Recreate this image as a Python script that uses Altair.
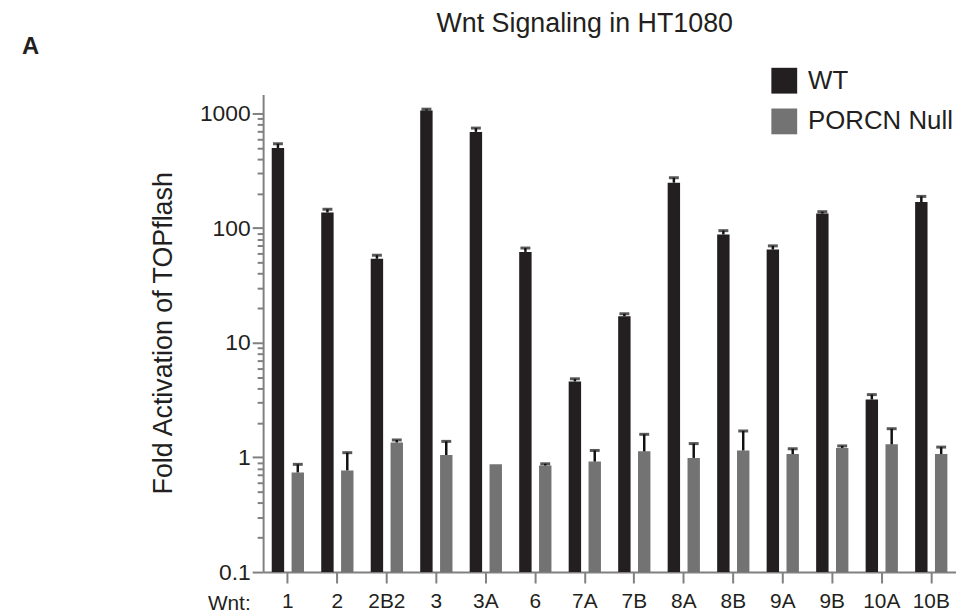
import altair as alt
import pandas as pd

wnt = ["1", "2", "2B2", "3", "3A", "6", "7A", "7B", "8A", "8B", "9A", "9B", "10A", "10B"]
wt_mean = [500, 137, 54, 1060, 690, 62, 4.6, 17.0, 249, 88, 65, 134, 3.2, 169]
wt_err = [45, 9, 4, 30, 55, 5, 0.25, 0.9, 26, 7, 5, 5, 0.33, 20]
null_mean = [0.74, 0.77, 1.35, 1.05, 0.87, 0.85, 0.92, 1.13, 0.99, 1.15, 1.07, 1.21, 1.30, 1.07]
null_err = [0.13, 0.33, 0.07, 0.33, 0.0, 0.03, 0.23, 0.46, 0.33, 0.55, 0.12, 0.05, 0.48, 0.16]
groups = ["WT", "PORCN Null"]
major_ticks = [0.1, 1, 10, 100, 1000]
minor_ticks = [m * d for d in [0.1, 1, 10, 100] for m in range(2, 10)]

rows = []
for i, w in enumerate(wnt):
    rows.append({"wnt": w, "genotype": "WT", "value": wt_mean[i], "err": wt_err[i],
                 "upper": wt_mean[i] + wt_err[i]})
    rows.append({"wnt": w, "genotype": "PORCN Null", "value": null_mean[i], "err": null_err[i],
                 "upper": null_mean[i] + null_err[i]})
df = pd.DataFrame(rows)

FONT = "Liberation Sans"
AXIS_GREY = "#808080"
TEXT = "#231f20"

x_enc = alt.X("wnt:N", sort=wnt,
              scale=alt.Scale(paddingInner=0, paddingOuter=0),
              axis=alt.Axis(title="Wnt:", labelAngle=0, labelFontSize=21, labelFont=FONT,
                            labelColor=TEXT, labelPadding=8, tickSize=11, tickWidth=2,
                            tickColor=AXIS_GREY, domainColor=AXIS_GREY, domainWidth=2,
                            titleFont=FONT, titleFontSize=21, titleFontWeight="normal",
                            titleColor=TEXT, titleX=-13, titleY=32, titleAlign="right",
                            titleBaseline="middle", titleAnchor="start"))
xo_enc = alt.XOffset("genotype:N", sort=groups,
                     scale=alt.Scale(paddingInner=0.375, paddingOuter=0.434))

is_major = "indexof([0.1, 1, 10, 100, 1000], datum.value) >= 0"
y_axis = alt.Axis(
    title="Fold Activation of TOPflash",
    values=sorted(major_ticks + minor_ticks),
    format="~g",
    labelExpr=f"{is_major} ? datum.label : ''",
    tickSize={"condition": {"test": is_major, "value": 11}, "value": 6},
    tickWidth=2, tickColor=AXIS_GREY, domainColor=AXIS_GREY, domainWidth=2,
    labelFontSize=23, labelFont=FONT, labelColor=TEXT, labelPadding=2,
    titleFont=FONT, titleFontSize=27, titleFontWeight="normal", titleColor=TEXT,
    titleX=-86, titleY=240, titleAlign="center", titleBaseline="bottom", titleAngle=270,
)
y_scale = alt.Scale(type="log", domain=[0.1, 1460], nice=False)

base = alt.Chart(df)

bars = base.mark_bar().encode(
    x=x_enc,
    xOffset=xo_enc,
    y=alt.Y("value:Q", scale=y_scale, axis=y_axis, stack=None),
    color=alt.Color("genotype:N",
                    scale=alt.Scale(domain=groups, range=["#231f20", "#737373"]),
                    legend=alt.Legend(title=None, orient="none", legendX=512, legendY=-27,
                                      symbolType="square", symbolSize=676,
                                      symbolStrokeWidth=0, labelFontSize=26,
                                      labelFont=FONT, labelColor=TEXT, rowPadding=15,
                                      labelOffset=11)),
)

err_df = base.transform_filter("datum.err > 0")

rules = err_df.mark_rule(color="#111111", strokeWidth=2.5).encode(
    x=alt.X("wnt:N", sort=wnt),
    xOffset=alt.XOffset("genotype:N", sort=groups),
    y=alt.Y("value:Q", stack=None),
    y2="upper:Q",
)

caps = err_df.mark_tick(color="#111111", thickness=3, size=10, orient="horizontal").encode(
    x=alt.X("wnt:N", sort=wnt),
    xOffset=alt.XOffset("genotype:N", sort=groups),
    y=alt.Y("upper:Q", stack=None),
)

labels_df = pd.DataFrame({"t": ["A"]})
panel_label = alt.Chart(labels_df).mark_text(
    font=FONT, fontSize=24, fontWeight="bold", color=TEXT, align="left", baseline="middle"
).encode(text="t:N", x=alt.value(-243), y=alt.value(-48))

title_df = pd.DataFrame({"t": ["Wnt Signaling in HT1080"]})
title_text = alt.Chart(title_df).mark_text(
    font=FONT, fontSize=27, color=TEXT, align="center", baseline="middle"
).encode(text="t:N", x=alt.value(324), y=alt.value(-71))

chart = alt.layer(bars, rules, caps, panel_label, title_text).properties(
    width=698,
    height=481,
    autosize=alt.AutoSizeParams(type="none"),
    padding={"left": 257, "top": 85, "right": 0, "bottom": 40},
).configure_view(stroke=None).configure_axis(grid=False)

chart.save("out.html", embed_options={"renderer": "svg", "actions": False})
